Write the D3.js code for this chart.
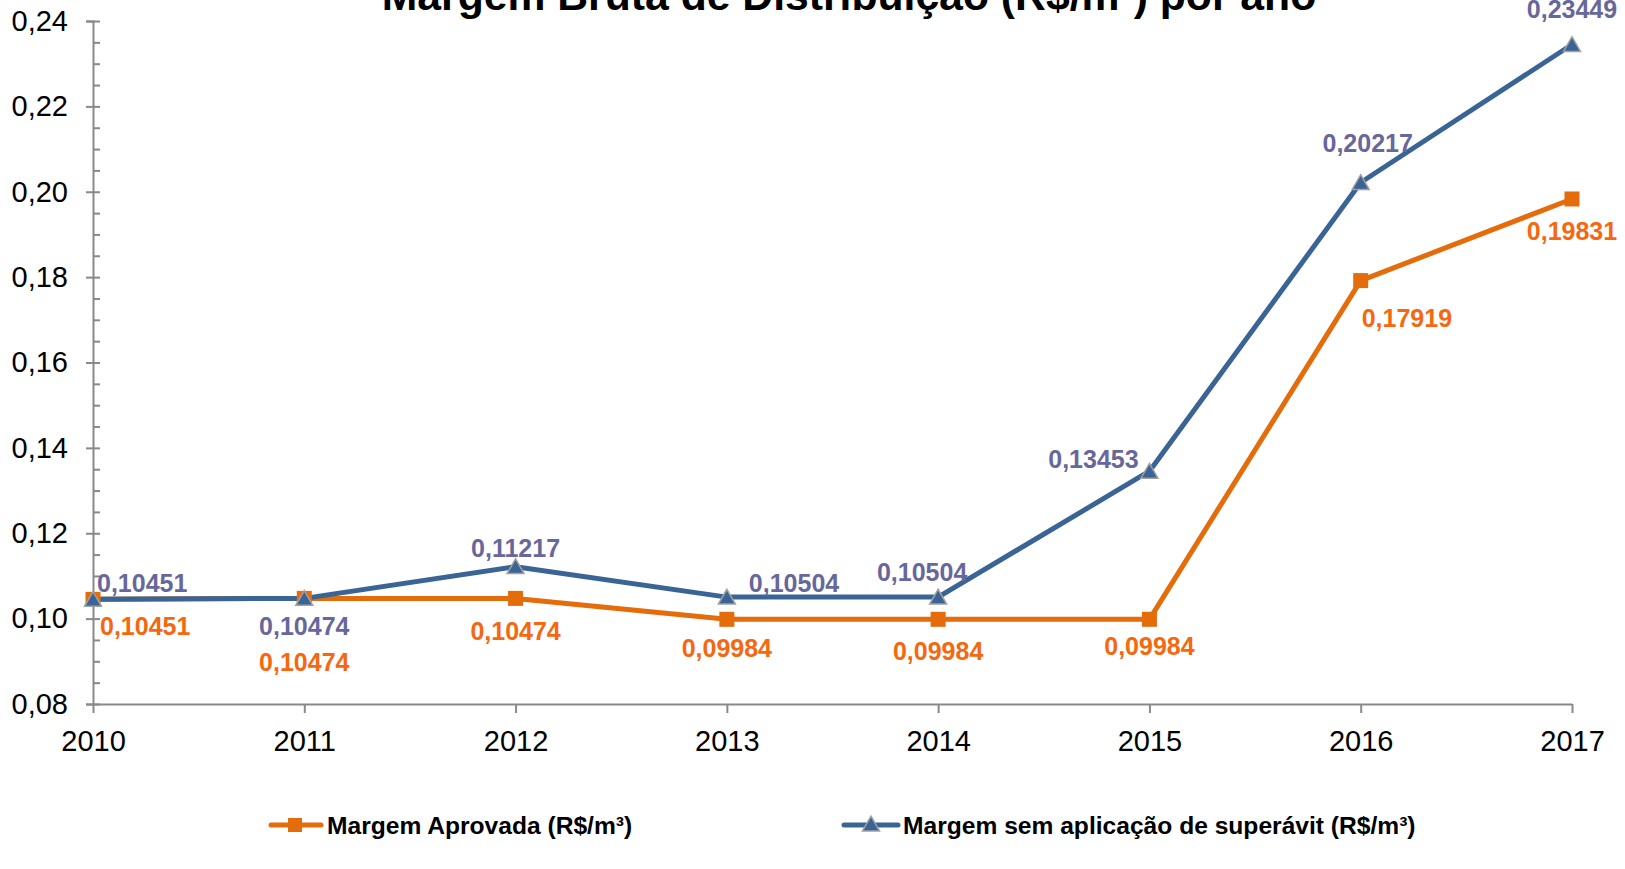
<!DOCTYPE html>
<html><head><meta charset="utf-8">
<script src="https://cdn.jsdelivr.net/npm/d3@7"></script>
<style>
html,body{margin:0;padding:0;background:#fff;}
svg text{font-family:"Liberation Sans",Arial,sans-serif;}
</style></head>
<body>
<svg id="chart" width="1625" height="869"></svg>
<script>
const years = ["2010","2011","2012","2013","2014","2015","2016","2017"];
const aprovada = [0.10451,0.10474,0.10474,0.09984,0.09984,0.09984,0.17919,0.19831];
const semSuperavit = [0.10451,0.10474,0.11217,0.10504,0.10504,0.13453,0.20217,0.23449];
const yTicks = [0.08,0.10,0.12,0.14,0.16,0.18,0.20,0.22,0.24];
const title = "Margem Bruta de Distribuição (R$/m³) por ano";
const seriesNames = ["Margem Aprovada (R$/m³)","Margem sem aplicação de superávit (R$/m³)"];

// label placement (offsets from the point, in px) - layout only
const labelOffAprov = [[7,36,"start"],[0,73,"middle"],[0,42,"middle"],[0,38,"middle"],[0,41,"middle"],[0,36,"middle"],[1,46,"start"],[0,41,"middle"]];
const labelOffSem   = [[4,-7,"start"],[0,37,"middle"],[0,-10,"middle"],[22,-5,"start"],[-16,-16,"middle"],[-56,-3,"middle"],[7,-30,"middle"],[0,-27,"middle"]];

const svg = d3.select("#chart");
const x = d3.scalePoint().domain(years).range([93,1572]);
const y = d3.scaleLinear().domain([0.08,0.24]).range([704,21]);
const fmt = v => d3.format(".2f")(v).replace(".",",");
const fmt5 = v => d3.format(".5f")(v).replace(".",",");

const axisColor = "#898989";
const orange = "#e46c0a", orangeText = "#f5680f";
const blue = "#3a6496", blueText = "#67679b";

// title
svg.append("text").attr("x",849).attr("y",10).attr("text-anchor","middle")
  .attr("font-size","42.7px").attr("font-weight","bold").attr("fill","#000").text(title);

// y axis
const minor = d3.range(0,33).map(i=>0.08+i*0.005);
const gyL = svg.append("g").attr("transform","translate(93,0)")
  .call(d3.axisLeft(y).tickValues(yTicks).tickSize(7).tickPadding(18).tickFormat(fmt));
const gyR = svg.append("g").attr("transform","translate(93,0)")
  .call(d3.axisRight(y).tickValues(minor).tickSize(7).tickFormat(""));
[gyL,gyR].forEach(g=>{
  g.select(".domain").attr("stroke",axisColor).attr("stroke-width",2);
  g.selectAll(".tick line").attr("stroke",axisColor).attr("stroke-width",2);
});
gyR.select(".domain").remove();
gyL.selectAll(".tick text").attr("font-size","29px").attr("fill","#000").attr("font-family","Liberation Sans, Arial, sans-serif");

// x axis
const gx = svg.append("g").attr("transform","translate(0,704)")
  .call(d3.axisBottom(x).tickSize(9).tickSizeOuter(0));
gx.select(".domain").attr("stroke",axisColor).attr("stroke-width",2);
gx.selectAll(".tick line").attr("stroke",axisColor).attr("stroke-width",2);
gx.selectAll(".tick text").attr("font-size","29px").attr("fill","#000")
  .attr("font-family","Liberation Sans, Arial, sans-serif").attr("y",47).attr("dy",0);

// lines
const line = d3.line().x((d,i)=>x(years[i])).y(d=>y(d));
svg.append("path").datum(aprovada).attr("d",line).attr("fill","none")
  .attr("stroke",orange).attr("stroke-width",5).attr("stroke-linejoin","round");
svg.append("path").datum(semSuperavit).attr("d",line).attr("fill","none")
  .attr("stroke",blue).attr("stroke-width",5).attr("stroke-linejoin","round");

// markers
svg.append("g").selectAll("rect").data(aprovada).join("rect")
  .attr("x",(d,i)=>x(years[i])-7.5).attr("y",d=>y(d)-7.5)
  .attr("width",15).attr("height",15).attr("fill",orange);
const tri = d3.symbol().type(d3.symbolTriangle).size(125);
svg.append("g").selectAll("path").data(semSuperavit).join("path")
  .attr("d",tri).attr("transform",(d,i)=>`translate(${x(years[i])},${y(d)+2})`)
  .attr("fill",blue).attr("stroke","#a0a0a0").attr("stroke-width",1.5);

// data labels
svg.append("g").selectAll("text").data(aprovada).join("text")
  .attr("x",(d,i)=>x(years[i])+labelOffAprov[i][0]).attr("y",(d,i)=>y(d)+labelOffAprov[i][1])
  .attr("text-anchor",(d,i)=>labelOffAprov[i][2])
  .attr("font-size","25px").attr("font-weight","bold").attr("fill",orangeText).text(fmt5);
svg.append("g").selectAll("text").data(semSuperavit).join("text")
  .attr("x",(d,i)=>x(years[i])+labelOffSem[i][0]).attr("y",(d,i)=>y(d)+labelOffSem[i][1])
  .attr("text-anchor",(d,i)=>labelOffSem[i][2])
  .attr("font-size","25px").attr("font-weight","bold").attr("fill",blueText).text(fmt5);

// legend
const lg = svg.append("g");
lg.append("line").attr("x1",271).attr("x2",321).attr("y1",825).attr("y2",825)
  .attr("stroke",orange).attr("stroke-width",5).attr("stroke-linecap","round");
lg.append("rect").attr("x",288).attr("y",818).attr("width",14).attr("height",14).attr("fill",orange);
lg.append("text").attr("x",327).attr("y",834).attr("font-size","24.6px").attr("font-weight","bold")
  .attr("fill","#000").text(seriesNames[0]);
lg.append("line").attr("x1",844).attr("x2",898).attr("y1",825).attr("y2",825)
  .attr("stroke",blue).attr("stroke-width",5).attr("stroke-linecap","round");
lg.append("path").attr("d",tri).attr("transform","translate(871,826)")
  .attr("fill",blue).attr("stroke","#a0a0a0").attr("stroke-width",1.5);
lg.append("text").attr("x",903).attr("y",834).attr("font-size","24.6px").attr("font-weight","bold")
  .attr("fill","#000").text(seriesNames[1]);
</script>
</body></html>
